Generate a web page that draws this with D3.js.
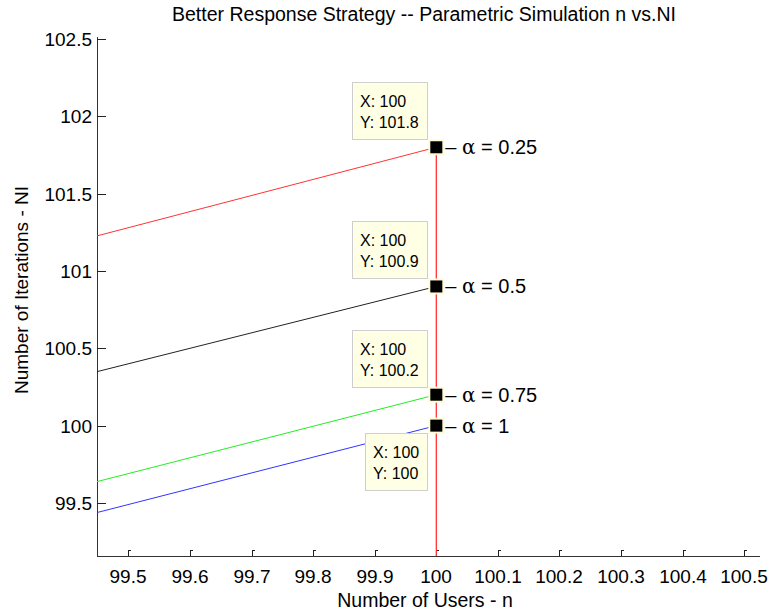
<!DOCTYPE html>
<html>
<head>
  <meta charset="utf-8">
  <style>
    body { margin: 0; background: #fff; }
    text { font-family: Arial, "Liberation Sans", Helvetica, sans-serif; fill: #000; }
    .axis-line { stroke: #333; stroke-width: 1px; shape-rendering: crispEdges; }
    .tick-mark { fill: none; stroke: #222; stroke-width: 1px; shape-rendering: crispEdges; }
    path.line { fill: none; stroke-width: 1px; }
    .tip-box { fill: #ffffe6; stroke: #cfcfcf; stroke-width: 1px; shape-rendering: crispEdges; }
  </style>
  <script src="https://cdn.jsdelivr.net/npm/d3@7"></script>
</head>
<body>
<div id="graph"></div>
<script>
  // data
  var nValues = [99, 100];
  var niAlpha025 = [100.76, 101.8];
  var niAlpha05 = [99.9, 100.9];
  var niAlpha075 = [99.18, 100.2];
  var niAlpha1 = [98.98, 100];
  var seriesColors = ["#ff3333", "#222222", "#22ee22", "#3333ff"];
  var alphaValues = ["0.25", "0.5", "0.75", "1"];
  var xTicks = [99.5, 99.6, 99.7, 99.8, 99.9, 100, 100.1, 100.2, 100.3, 100.4, 100.5];
  var yTicks = [99.5, 100, 100.5, 101, 101.5, 102, 102.5];
  var xDomain = [99.449, 100.524];
  var yDomain = [99.157, 102.513];

  var margin = { top: 37, right: 10, bottom: 57, left: 97 };
  var width = 769 - margin.left - margin.right;
  var height = 613 - margin.top - margin.bottom;

  var svgRoot = d3.select("#graph").append("svg")
    .attr("width", 769)
    .attr("height", 613);
  var svg = svgRoot.append("g")
    .attr("transform", "translate(" + margin.left + "," + margin.top + ")");

  var x = d3.scaleLinear().domain(xDomain).range([0, 662]);
  var y = d3.scaleLinear().domain(yDomain).range([height, 0]);

  svg.append("clipPath").attr("id", "clip")
    .append("rect").attr("width", 662).attr("height", height);

  // title
  svgRoot.append("text")
    .attr("x", 424).attr("y", 21)
    .attr("text-anchor", "middle")
    .style("font-size", "19.5px")
    .text("Better Response Strategy -- Parametric Simulation n vs.NI");

  // axis lines (left + bottom only)
  svg.append("line").attr("class", "axis-line")
    .attr("x1", 0).attr("x2", 0).attr("y1", 0).attr("y2", height);
  svg.append("line").attr("class", "axis-line")
    .attr("x1", 0).attr("x2", 663).attr("y1", height).attr("y2", height);

  // x ticks
  var xt = svg.selectAll(".xtick").data(xTicks).enter().append("g")
    .attr("transform", function(d) { return "translate(" + Math.round(x(d)) + "," + height + ")"; });
  xt.append("path").attr("class", "tick-mark").attr("d", "M0.5,0V-5.5H3");
  xt.append("text").attr("y", 27).attr("text-anchor", "middle")
    .style("font-size", "19px")
    .text(function(d) { return d3.format("")(d); });

  // y ticks
  var yt = svg.selectAll(".ytick").data(yTicks).enter().append("g")
    .attr("transform", function(d) { return "translate(0," + Math.round(y(d)) + ")"; });
  yt.append("path").attr("class", "tick-mark").attr("d", "M0,0.5H9");
  yt.append("text").attr("x", -5).attr("dy", "0.35em").attr("text-anchor", "end")
    .style("font-size", "19px")
    .text(function(d) { return d3.format("")(d); });

  // axis labels
  svgRoot.append("text")
    .attr("x", 425).attr("y", 607)
    .attr("text-anchor", "middle")
    .style("font-size", "19.5px")
    .text("Number of Users - n");
  svgRoot.append("text")
    .attr("transform", "translate(28,290) rotate(-90)")
    .attr("text-anchor", "middle")
    .style("font-size", "19px")
    .text("Number of Iterations - NI");

  var series = [niAlpha025, niAlpha05, niAlpha075, niAlpha1];

  var line = d3.line()
    .x(function(d, i) { return x(nValues[i]); })
    .y(function(d) { return y(d); });

  svg.selectAll(".line").data(series).enter().append("path")
    .attr("class", "line")
    .attr("clip-path", "url(#clip)")
    .style("stroke", function(d, i) { return seriesColors[i]; })
    .attr("d", line);

  // red drop line at n = 100
  svg.append("line")
    .attr("x1", x(100)).attr("x2", x(100))
    .attr("y1", y(niAlpha025[1])).attr("y2", y(yDomain[0]))
    .style("stroke", seriesColors[0]).style("stroke-width", 1.3);

  // markers, labels and data tips
  series.forEach(function(s, i) {
    var px = x(nValues[1]), py = y(s[1]);
    var g = svg.append("g");
    g.append("rect").attr("x", px - 8).attr("y", py - 8).attr("width", 16).attr("height", 16)
      .style("fill", "#fffbd5");
    g.append("rect").attr("x", px - 6).attr("y", py - 6).attr("width", 12).attr("height", 12)
      .style("fill", "#000");

    var lbl = g.append("text").attr("x", px + 9).attr("y", py).attr("dy", "0.35em")
      .style("font-size", "20px");
    lbl.append("tspan").text("\u2013 ");
    lbl.append("tspan").style("font-family", "'DejaVu Serif', 'Liberation Serif', serif")
      .style("font-size", "20px").text("\u03b1");
    lbl.append("tspan").text(" = " + alphaValues[i]);

    // data tip
    var below = (i === 3);
    var tip = g.append("g");
    var box = tip.append("rect").attr("class", "tip-box");
    var t1 = tip.append("text").style("font-size", "16px").text("X: " + d3.format("")(nValues[1]));
    var t2 = tip.append("text").style("font-size", "16px").text("Y: " + d3.format("")(s[1]));
    var tw = Math.max(t1.node().getComputedTextLength(), t2.node().getComputedTextLength());
    var bw = Math.round(tw + 16), bh = 57;
    var bx = Math.round(px - 9 - bw);
    var by = below ? Math.round(py + 7) : Math.round(py - 8 - bh);
    box.attr("x", bx + 0.5).attr("y", by + 0.5).attr("width", bw).attr("height", bh);
    t1.attr("x", bx + 8).attr("y", by + 25);
    t2.attr("x", bx + 8).attr("y", by + 46);
  });
</script>
</body>
</html>
